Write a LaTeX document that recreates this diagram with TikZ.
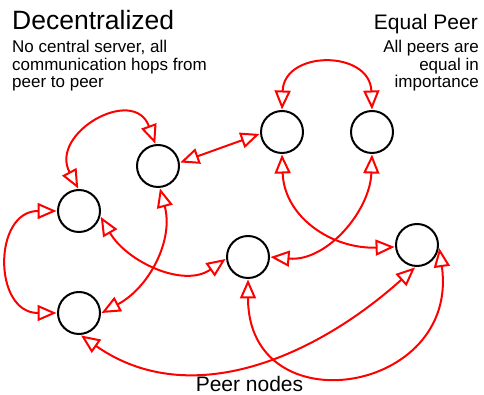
\documentclass[tikz,border=0pt]{standalone}
\usepackage{fontspec}
\setmainfont{Liberation Sans}
\usetikzlibrary{arrows.meta}

\begin{document}
\begin{tikzpicture}[x=1pt,y=1pt,
  peer/.style={circle, draw=black, line width=2pt, minimum size=42pt,
    inner sep=0pt, outer sep=1.5pt},
  tip/.tip={Triangle[open,length=19pt,width=16pt]},
  link/.style={draw=red, line width=2pt, tip-tip},
  head/.style={inner sep=0pt, font=\fontsize{21}{25}\selectfont},
  bighead/.style={inner sep=0pt, font=\fontsize{26.5}{30}\selectfont},
  note/.style={inner sep=0pt, font=\fontsize{17}{20}\selectfont}]
\useasboundingbox (0,0) rectangle (484,395);

% headings and notes
\node[bighead, anchor=base west] (title) at (12,365) {Decentralized};
\node[note, anchor=base west] (sub1) at (12,342.5) {No central server, all};
\node[note, anchor=base west] (sub2) at (12,324.5) {communication hops from};
\node[note, anchor=base west] (sub3) at (12,307) {peer to peer};

\node[head, anchor=base east] (eq) at (478,365) {Equal Peer};
\node[note, anchor=base east] (eq1) at (479,342.5) {All peers are};
\node[note, anchor=base east] (eq2) at (479,324.5) {equal in};
\node[note, anchor=base east] (eq3) at (479,307) {importance};

\node[head, anchor=base] (cap) at (249.5,3) {Peer nodes};

% peers
\node[peer] (A) at (158,229) {};
\node[peer] (B) at (282,263) {};
\node[peer] (C) at (372,263) {};
\node[peer] (D) at (79,184) {};
\node[peer] (E) at (79,82) {};
\node[peer] (F) at (248,138) {};
\node[peer] (G) at (417,150) {};

% peer-to-peer links
\draw[link] (D.92) to[out=118,in=110,looseness=1.8] (A.97);
\draw[link] (A.9) -- (B.185);
\draw[link] (B.90) to[out=88,in=92,looseness=1.7] (C.90);
\draw[link] (B.270) to[out=-88,in=182,looseness=1.1] (G.185);
\draw[link] (C.270) to[out=-92,in=-5] (F.0);
\draw[link] (D.-15) to[out=-60,in=215] (F.185);
\draw[link] (A.-85) to[out=-75,in=28] (E.0);
\draw[link] (D.180) to[out=180,in=180,looseness=1.6] (E.180);
\draw[link] (E.-85) to[out=-35,in=222] (G.-95);
\draw[link] (F.270) to[out=-90,in=-82,looseness=1.95] (G.-8);
\end{tikzpicture}
\end{document}
